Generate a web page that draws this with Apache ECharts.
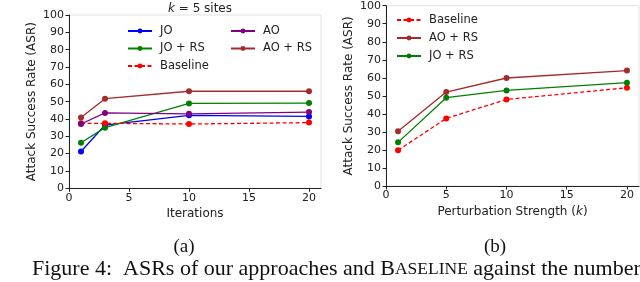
<!DOCTYPE html>
<html>
<head>
<meta charset="utf-8">
<script src="https://cdn.jsdelivr.net/npm/echarts@6/dist/echarts.min.js"></script>
<style>
html,body{margin:0;padding:0;background:#fff;}
#c{width:640px;height:282px;}
</style>
</head>
<body>
<div id="c"></div>
<script>
// Panel (a): ASR vs iterations (k = 5 sites)
const itersA = [1, 3, 10, 20];
const jo_a = [21.2, 36.5, 42.1, 41.5];
const joRs_a = [26.3, 35.0, 49.0, 49.2];
const ao_a = [37.1, 43.5, 43.0, 44.0];
const aoRs_a = [40.8, 51.7, 56.0, 56.0];
const base_a = [37.5, 37.5, 37.1, 37.9];

// Panel (b): ASR vs perturbation strength (k)
const strengthB = [1, 5, 10, 20];
const base_b = [19.8, 37.5, 48.0, 54.5];
const aoRs_b = [30.3, 52.1, 59.9, 64.0];
const joRs_b = [24.2, 49.0, 53.0, 57.3];

const xTicks = [0, 5, 10, 15, 20];
const yTicks = [0, 10, 20, 30, 40, 50, 60, 70, 80, 90, 100];

const F = 'DejaVu Sans';
const TXT = '#222';
const pair = (xs, ys) => xs.map((x, i) => [x, ys[i]]);

function xAx(gi, name, gap, rich) {
  return {
    type: 'value', gridIndex: gi, min: 0, max: 21,
    name: name, nameLocation: 'middle', nameGap: gap,
    nameTextStyle: {fontFamily: F, fontSize: 12, color: TXT, rich: rich},
    axisLine: {show: true, lineStyle: {color: '#222', width: 1}},
    axisTick: {show: true, inside: false, length: 3.5, customValues: xTicks, lineStyle: {color: '#222'}},
    axisLabel: {fontFamily: F, fontSize: 11, color: TXT, margin: 4, customValues: xTicks},
    splitLine: {show: false}
  };
}
function yAx(gi) {
  return {
    type: 'value', gridIndex: gi, min: 0, max: 100, interval: 10,
    name: 'Attack Success Rate (ASR)', nameLocation: 'middle', nameGap: 31,
    nameTextStyle: {fontFamily: F, fontSize: 12, color: TXT},
    axisLine: {show: true, lineStyle: {color: '#222', width: 1}},
    axisTick: {show: true, inside: false, length: 3.5, lineStyle: {color: '#222'}},
    axisLabel: {fontFamily: F, fontSize: 11, color: TXT, margin: 5, customValues: yTicks},
    splitLine: {show: false}
  };
}
function ser(name, gi, data, color, dashed) {
  return {
    name: name, type: 'line', xAxisIndex: gi, yAxisIndex: gi, data: data,
    symbol: 'circle', symbolSize: 6, showSymbol: true,
    lineStyle: {color: color, width: 1.3, type: dashed ? [4, 2.5] : 'solid'},
    itemStyle: {color: color}, animation: false
  };
}
const legendCommon = {
  orient: 'vertical', itemWidth: 24, itemHeight: 6, itemGap: 5.5,
  textStyle: {fontFamily: F, fontSize: 11.5, color: TXT, padding: [0, 0, 0, 3]},
  selectedMode: false
};
const serif = 'Liberation Serif';

const chart = echarts.init(document.getElementById('c'), null, {renderer: 'canvas'});
chart.setOption({
  backgroundColor: '#fff',
  animation: false,
  title: [
    {text: '{n|}{i|k}{n| = 5 sites}', left: 195, top: -2, textAlign: 'center',
     textStyle: {fontFamily: F, fontSize: 12, fontWeight: 'normal', color: TXT,
       rich: {i: {fontFamily: F, fontSize: 12, fontStyle: 'italic', fontWeight: 'normal', color: TXT},
              n: {fontFamily: F, fontSize: 12, fontWeight: 'normal', color: TXT}}}},
    {text: '(a)', left: 179, top: 233, textAlign: 'center',
     textStyle: {fontFamily: serif, fontSize: 19, fontWeight: 'normal', color: '#111'}},
    {text: '(b)', left: 490, top: 233, textAlign: 'center',
     textStyle: {fontFamily: serif, fontSize: 19, fontWeight: 'normal', color: '#111'}},
    {text: '{a|Figure 4:  ASRs of our approaches and B}{s|ASELINE}{a| against the number}',
     left: 27, top: 253,
     textStyle: {fontWeight: 'normal', rich: {
       a: {fontFamily: serif, fontSize: 22, fontWeight: 'normal', color: '#111'},
       s: {fontFamily: serif, fontSize: 17.5, fontWeight: 'normal', color: '#111'}}}},
    {text: 'of optimization iterations (k) and the perturbation strength of attacks',
     left: 27, top: 276,
     textStyle: {fontFamily: serif, fontSize: 22, fontWeight: 'normal', color: '#111'}}
  ],
  legend: [
    Object.assign({}, legendCommon, {left: 122, top: 20, data: ['JO', 'JO + RS', 'Baseline']}),
    Object.assign({}, legendCommon, {left: 225, top: 20, data: ['AO', 'AO + RS']}),
    Object.assign({}, legendCommon, {left: 391, top: 9, itemGap: 6, data: ['Baseline', 'AO + RS', 'JO + RS']})
  ],
  grid: [
    {left: 69, top: 15, width: 252, height: 173.3, show: true, borderColor: '#e2e2e2', borderWidth: 1, backgroundColor: 'transparent'},
    {left: 386, top: 5.7, width: 253, height: 180.3, show: true, borderColor: '#e2e2e2', borderWidth: 1, backgroundColor: 'transparent'}
  ],
  xAxis: [
    xAx(0, 'Iterations', 18),
    xAx(1, 'Perturbation Strength ({i|k})', 19, {i: {fontFamily: F, fontSize: 12, fontStyle: 'italic', color: TXT}})
  ],
  yAxis: [yAx(0), yAx(1)],
  series: [
    ser('JO', 0, pair(itersA, jo_a), '#0000ff', false),
    ser('JO + RS', 0, pair(itersA, joRs_a), '#008000', false),
    ser('Baseline', 0, pair(itersA, base_a), '#ff0000', true),
    ser('AO', 0, pair(itersA, ao_a), '#800080', false),
    ser('AO + RS', 0, pair(itersA, aoRs_a), '#a52a2a', false),
    ser('Baseline', 1, pair(strengthB, base_b), '#ff0000', true),
    ser('AO + RS', 1, pair(strengthB, aoRs_b), '#a52a2a', false),
    ser('JO + RS', 1, pair(strengthB, joRs_b), '#008000', false)
  ]
});
</script>
</body>
</html>
